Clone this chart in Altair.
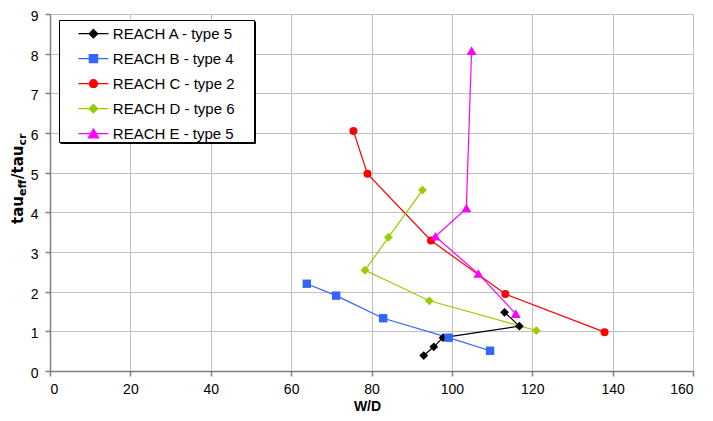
import altair as alt
import pandas as pd

series_names = ["REACH A - type 5", "REACH B - type 4", "REACH C - type 2",
                "REACH D - type 6", "REACH E - type 5"]
series_colors = ["#000000", "#3366FF", "#FF0000", "#99CC00", "#FF00FF"]

a_x = [93.0, 95.5, 97.8, 116.8, 113.1]
a_y = [0.39, 0.61, 0.84, 1.13, 1.48]
b_x = [63.9, 71.2, 82.9, 99.2, 109.5]
b_y = [2.20, 1.90, 1.33, 0.84, 0.51]
c_x = [75.5, 79.0, 94.8, 113.3, 138.0]
c_y = [6.05, 4.97, 3.29, 1.94, 0.98]
d_x = [92.7, 84.2, 78.4, 94.4, 121.0]
d_y = [4.56, 3.37, 2.54, 1.77, 1.02]
e_x = [104.9, 103.6, 95.9, 106.6, 115.9]
e_y = [8.07, 4.10, 3.39, 2.45, 1.44]

x_ticks = [0, 20, 40, 60, 80, 100, 120, 140, 160]
y_ticks = [0, 1, 2, 3, 4, 5, 6, 7, 8, 9]

rows = []
for name, xs, ys in zip(series_names, [a_x, b_x, c_x, d_x, e_x], [a_y, b_y, c_y, d_y, e_y]):
    for i, (xv, yv) in enumerate(zip(xs, ys)):
        rows.append({"series": name, "wd": xv, "tau": yv, "idx": i})
df = pd.DataFrame(rows)

# marker shapes for the plotted points (size 64 -> 4px per unit)
marker_paths = [
    "M0,-1.1L1.1,0L0,1.1L-1.1,0Z",
    "M-1.05,-1.05H1.05V1.05H-1.05Z",
    "circle",
    "M0,-1.1L1.1,0L0,1.1L-1.1,0Z",
    "M0,-1.15L1.25,1H-1.25Z",
]
# legend symbols: line segment plus marker (size 1024 -> 16px per unit)
legend_paths = [
    "M-0.9,0H0.975M0.04,-0.27L0.31,0L0.04,0.27L-0.23,0Z",
    "M-0.9,0H0.975M-0.22,-0.25H0.3V0.25H-0.22Z",
    "M-0.9,0H0.975M-0.21,0A0.25,0.25 0 1,0 0.29,0A0.25,0.25 0 1,0 -0.21,0Z",
    "M-0.9,0H0.975M0.04,-0.27L0.31,0L0.04,0.27L-0.23,0Z",
    "M-0.9,0H0.975M0.04,-0.3L0.36,0.26H-0.28Z",
]

font = "Liberation Sans"

x_enc = alt.X("wd:Q", scale=alt.Scale(domain=[0, 160], nice=False, zero=False),
              axis=alt.Axis(values=x_ticks, title="W/D", grid=True,
                            labelBaseline="alphabetic", labelPadding=17,
                            titleX=317, titleY=39, titleBaseline="alphabetic",
                            titleAlign="center"))
y_enc = alt.Y("tau:Q", scale=alt.Scale(domain=[0, 9], nice=False),
              axis=alt.Axis(values=y_ticks, title=None, grid=True,
                            labelPadding=7, labelOffset=2.5))

color_scale = alt.Scale(domain=series_names, range=series_colors)

legend_def = alt.Legend(orient="none", legendX=25.8, legendY=2.7, title=None)

lines = alt.Chart(df).mark_line(strokeWidth=1.2).encode(
    x=x_enc, y=y_enc,
    color=alt.Color("series:N", scale=color_scale, legend=None),
    order=alt.Order("idx:Q"),
)

point_layers = []
for name, path in zip(series_names, marker_paths):
    point_layers.append(
        alt.Chart(df).transform_filter(alt.datum.series == name).mark_point(
            shape=path, filled=True, opacity=1, size=64
        ).encode(
            x=x_enc, y=y_enc,
            color=alt.Color("series:N", scale=color_scale, legend=None),
        )
    )

one = alt.Data(values=[{"k": 1}])

# legend frame: white box with black border and a thin shadow
legend_box = alt.Chart(one).mark_rect(fill="#ffffff", stroke="#000000", strokeWidth=1).encode(
    x=alt.value(9.5), x2=alt.value(204.5), y=alt.value(6.5), y2=alt.value(128.5))
shadow_right = alt.Chart(one).mark_rule(color="#000000", strokeWidth=1).encode(
    x=alt.value(205.5), y=alt.value(7.5), y2=alt.value(129.5))
shadow_bottom = alt.Chart(one).mark_rule(color="#000000", strokeWidth=1).encode(
    x=alt.value(10.5), x2=alt.value(205.5), y=alt.value(129.5))

# invisible carrier of the legend (drawn outside the canvas)
legend_layer = alt.Chart(df).mark_point(
    filled=True, opacity=1, size=1024, strokeWidth=1.2
).encode(
    x=alt.value(-400), y=alt.value(-400),
    fill=alt.Fill("series:N", scale=color_scale, legend=legend_def),
    stroke=alt.Stroke("series:N", scale=color_scale, legend=legend_def),
    shape=alt.Shape("series:N", scale=alt.Scale(domain=series_names, range=legend_paths),
                    legend=legend_def),
)

title_font = "DejaVu Sans"
def ttext(txt, xpos, ypos, size):
    return alt.Chart(one).mark_text(
        angle=270, align="left", baseline="alphabetic", font=title_font,
        fontSize=size, fontWeight="bold", color="#000000", text=txt
    ).encode(x=alt.value(xpos), y=alt.value(ypos))

title_parts = [
    ttext("tau", -27.5, 210, 15),
    ttext("eff", -24.5, 182, 11),
    ttext("/tau", -27.5, 165, 15),
    ttext("cr", -24.5, 131.5, 11),
]

chart = alt.layer(
    lines, *point_layers, legend_box, shadow_right, shadow_bottom,
    legend_layer, *title_parts
).resolve_scale(
    fill="independent", stroke="independent", shape="independent"
).properties(
    width=643, height=357,
    autosize=alt.AutoSizeParams(type="none"),
    padding={"left": 42, "top": 6, "right": 12, "bottom": 42},
).configure_view(stroke=None).configure_axis(
    labelFont=font, labelFontSize=14, labelColor="#000000",
    titleFont=font, titleFontSize=14, titleFontWeight="bold", titleColor="#000000",
    gridColor="#c0c0c0", gridWidth=1,
    domainColor="#7f7f7f", domainWidth=1.5,
    tickColor="#7f7f7f", tickWidth=1.5, tickSize=5,
).configure_legend(
    labelFont=font, labelFontSize=15, labelColor="#000000",
    padding=0, rowPadding=0, labelOffset=3, symbolSize=1024,
    symbolStrokeWidth=1.2, symbolOpacity=1,
)

chart.save("out.html", embed_options={"renderer": "svg", "actions": False})
